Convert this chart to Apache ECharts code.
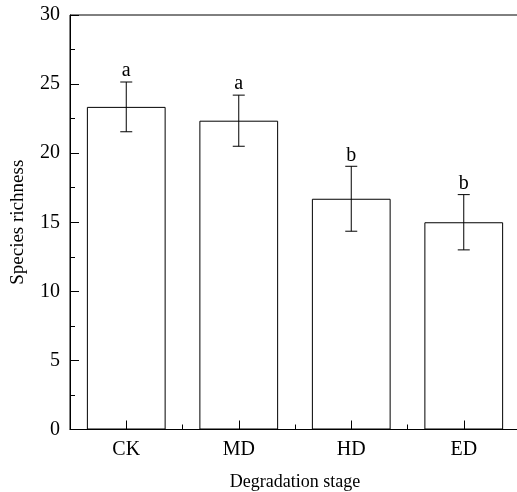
<!DOCTYPE html>
<html>
<head>
<meta charset="utf-8">
<script src="https://cdn.jsdelivr.net/npm/echarts@6/dist/echarts.min.js"></script>
<style>
  html, body { margin: 0; padding: 0; background: #fff; }
  #chart { width: 517px; height: 492px; }
</style>
</head>
<body>
<div id="chart"></div>
<script>
// data
var categories = ['CK', 'MD', 'HD', 'ED'];
var means = [23.35, 22.35, 16.7, 15.0];
var errors = [1.8, 1.85, 2.35, 2.0];
var letters = ['a', 'a', 'b', 'b'];

var chart = echarts.init(document.getElementById('chart'));
var font = 'Liberation Serif, Times New Roman, serif';

var errData = categories.map(function (c, i) {
  return [i, means[i] - errors[i], means[i] + errors[i], letters[i]];
});

var option = {
  animation: false,
  backgroundColor: '#fff',
  textStyle: { fontFamily: font, color: '#000' },
  grid: {
    left: 70, top: 15, width: 450, height: 414.5,
    outerBoundsMode: 'none',
    containLabel: false,
    show: true, borderColor: '#000', borderWidth: 1, backgroundColor: 'transparent'
  },
  xAxis: [{
    type: 'category',
    data: categories,
    name: 'Degradation stage',
    nameLocation: 'middle',
    nameGap: 44,
    nameTextStyle: { fontFamily: font, fontSize: 18, color: '#000' },
    axisLine: { onZero: false, lineStyle: { color: '#000', width: 1 } },
    axisTick: { show: false },
    axisLabel: { fontFamily: font, fontSize: 20, color: '#000', margin: 10 },
    splitLine: { show: false }
  }, {
    // tick-only axis: short ticks between categories, long ones at the centres
    type: 'value',
    position: 'bottom',
    min: -0.5, max: categories.length - 0.5, interval: 1,
    z: 5,
    axisLine: { show: false, onZero: false },
    axisTick: { show: true, inside: true, length: 5, lineStyle: { color: '#000', width: 1 } },
    minorTick: { show: true, splitNumber: 2, length: 9, lineStyle: { color: '#000', width: 1 } },
    axisLabel: { show: false },
    splitLine: { show: false }
  }],
  yAxis: {
    type: 'value',
    position: 'left',
    min: 0, max: 30, interval: 5,
    name: 'Species richness',
    nameLocation: 'middle',
    nameGap: 42,
    nameTextStyle: { fontFamily: font, fontSize: 19, color: '#000' },
    z: 5,
    axisLine: { show: true, onZero: false, lineStyle: { color: '#000', width: 1 } },
    axisTick: { show: true, inside: true, length: 9, lineStyle: { color: '#000' } },
    minorTick: { show: true, splitNumber: 2, length: 5, lineStyle: { color: '#000' } },
    axisLabel: { fontFamily: font, fontSize: 20, color: '#000', margin: 10 },
    splitLine: { show: false }
  },
  series: [{
    type: 'bar',
    data: means,
    z: 1,
    barCategoryGap: '30%',
    itemStyle: { color: 'rgba(255,255,255,0)', borderColor: '#000', borderWidth: 1 }
  }, {
    type: 'custom',
    data: errData,
    z: 10,
    renderItem: function (params, api) {
      var x = api.value(0);
      var lo = api.coord([x, api.value(1)]);
      var hi = api.coord([x, api.value(2)]);
      var cap = 6;
      var st = { stroke: '#000', lineWidth: 1 };
      return {
        type: 'group',
        children: [
          { type: 'line', shape: { x1: hi[0], y1: hi[1], x2: lo[0], y2: lo[1] }, style: st },
          { type: 'line', shape: { x1: hi[0] - cap, y1: hi[1], x2: hi[0] + cap, y2: hi[1] }, style: st },
          { type: 'line', shape: { x1: lo[0] - cap, y1: lo[1], x2: lo[0] + cap, y2: lo[1] }, style: st },
          { type: 'text', style: {
              text: api.value(3), x: hi[0], y: hi[1] - 1,
              textAlign: 'center', textVerticalAlign: 'bottom',
              font: '20px ' + font, fill: '#000'
            } }
        ]
      };
    }
  }]
};

chart.setOption(option);
</script>
</body>
</html>
